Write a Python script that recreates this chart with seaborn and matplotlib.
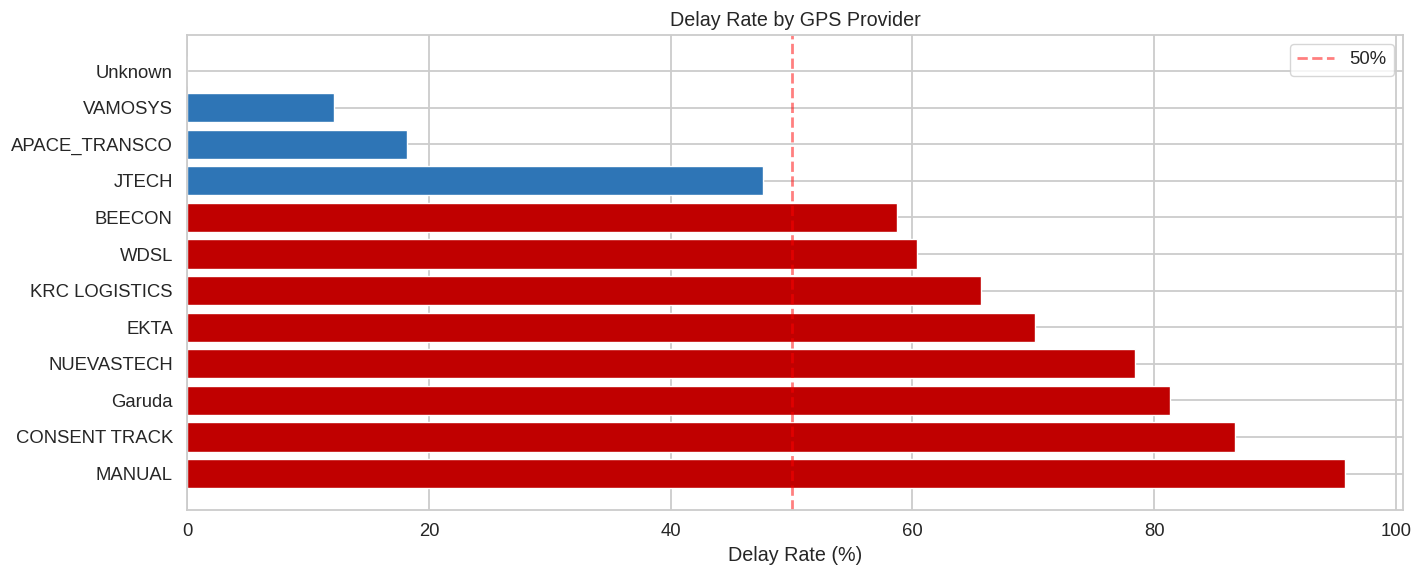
import matplotlib
matplotlib.use("Agg")
import matplotlib.pyplot as plt
import seaborn as sns
import pandas as pd

# Delay rate (%) per GPS provider
providers = ["Unknown", "VAMOSYS", "APACE_TRANSCO", "JTECH", "BEECON", "WDSL",
             "KRC LOGISTICS", "EKTA", "NUEVASTECH", "Garuda", "CONSENT TRACK", "MANUAL"]
delay_rates = [0.0, 12.1, 18.2, 47.6, 58.7, 60.4, 65.7, 70.1, 78.4, 81.3, 86.7, 95.8]
threshold = 50

df = pd.DataFrame({"provider": providers, "delay_rate": delay_rates})
colors = {p: ("#C00000" if r > threshold else "#2E75B6")
          for p, r in zip(providers, delay_rates)}

sns.set_theme(style="whitegrid", rc={"grid.linewidth": 1.3, "axes.linewidth": 1.3})
plt.rcParams["font.family"] = ["Liberation Sans", "DejaVu Sans"]

fig, ax = plt.subplots(figsize=(14.2, 5.8), dpi=100)

sns.barplot(data=df, x="delay_rate", y="provider", hue="provider", order=providers,
            palette=colors, legend=False, saturation=1, width=0.8, ax=ax)

ax.axvline(threshold, color="red", linestyle="--", alpha=0.5, linewidth=2, label="50%")

# same vertical padding matplotlib barh would give
n = len(providers)
pad = 0.4 + 0.05 * (n - 1 + 0.8)
ax.set_ylim(n - 1 + pad, -pad)
ax.yaxis.grid(True)
ax.xaxis.grid(True)

ax.set_title("Delay Rate by GPS Provider", fontsize=14.2)
ax.set_xlabel("Delay Rate (%)", fontsize=14.2)
ax.set_ylabel("")
ax.tick_params(axis="both", labelsize=13.3)
ax.tick_params(axis="y", pad=4.5)
ax.legend(loc="upper right", fontsize=13.3)

fig.subplots_adjust(left=0.132, right=0.988, top=0.94, bottom=0.121)
plt.savefig("out.png", dpi=100)
